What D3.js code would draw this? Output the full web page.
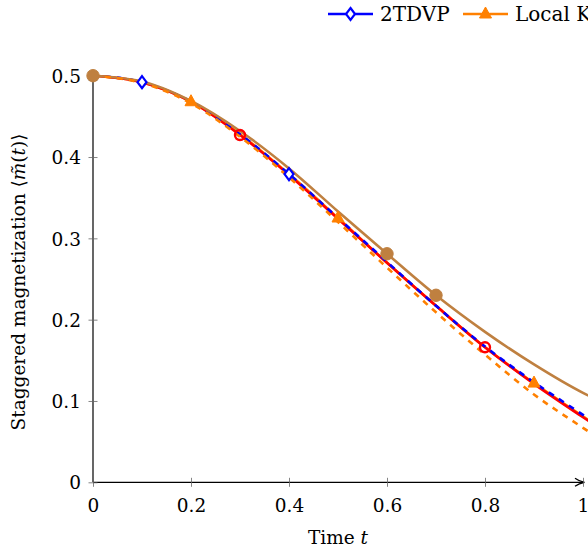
<!DOCTYPE html>
<html><head><meta charset="utf-8">
<script src="https://cdn.jsdelivr.net/npm/d3@7"></script>
<style>
html,body{margin:0;padding:0;background:#fff;overflow:hidden;}
text{font-family:"DejaVu Serif",serif;fill:#000;}
</style></head>
<body><svg id="c" width="588" height="554"></svg>
<script>
// ---- data ----
const times      = [0, 0.1, 0.2, 0.3, 0.4, 0.5, 0.6, 0.7, 0.8, 0.9, 1.0, 1.02];
const tdvp       = [0.500, 0.492, 0.468, 0.428, 0.379, 0.325, 0.271, 0.217, 0.167, 0.123, 0.083, 0.075];
const localK     = [0.500, 0.492, 0.468, 0.428, 0.379, 0.325, 0.270, 0.217, 0.166, 0.122, 0.081, 0.073];
const redSeries  = [0.500, 0.492, 0.468, 0.427, 0.378, 0.324, 0.270, 0.217, 0.166, 0.121, 0.080, 0.072];
const brownSeries= [0.500, 0.493, 0.469, 0.432, 0.386, 0.333, 0.281, 0.230, 0.185, 0.145, 0.110, 0.104];
const orangeDash = [0.500, 0.491, 0.466, 0.425, 0.375, 0.320, 0.264, 0.209, 0.157, 0.108, 0.067, 0.059];
const tdvpMarks   = [0.1, 0.4];
const localKMarks = [0.2, 0.5, 0.9];
const redMarks    = [0.3, 0.8];
const brownMarks  = [0, 0.6, 0.7];
const xTicks = [0, 0.2, 0.4, 0.6, 0.8, 1];
const yTicks = [0, 0.1, 0.2, 0.3, 0.4, 0.5];
const legendNames = ["2TDVP", "Local Krylov"];

const svg = d3.select("#c");
const x = d3.scaleLinear().domain([0, 1]).range([93, 583]);
const y = d3.scaleLinear().domain([0, 0.5]).range([482.3, 75.7]);
const FS = 18.5;
const LW = 2.6;
const FONT = "DejaVu Serif";

const line = vals => d3.line().x((d,i)=>x(times[i])).y(d=>y(d)).curve(d3.curveMonotoneX)(vals);
const at = (vals, t) => { const i = times.findIndex(v => Math.abs(v - t) < 1e-9); return vals[i]; };

// axes
const ax = svg.append("g");
ax.append("line").attr("x1", x(0)).attr("x2", x(1)+1).attr("y1", y(0)).attr("y2", y(0)).attr("stroke","#000").attr("stroke-width",1.2);
ax.append("line").attr("x1", x(0)).attr("x2", x(0)).attr("y1", y(0)).attr("y2", y(0.5)-3).attr("stroke","#000").attr("stroke-width",1.2);
ax.append("path").attr("d", `M${x(1)-8},${y(0)-4} Q${x(1)-4},${y(0)-1} ${x(1)+1.5},${y(0)} Q${x(1)-4},${y(0)+1} ${x(1)-8},${y(0)+4}`).attr("fill","none").attr("stroke","#000").attr("stroke-width",1.2);
ax.append("path").attr("d", `M${x(0)-4},${y(0.5)+5} Q${x(0)-1},${y(0.5)+1} ${x(0)},${y(0.5)-4} Q${x(0)+1},${y(0.5)+1} ${x(0)+4},${y(0.5)+5}`).attr("fill","none").attr("stroke","#000").attr("stroke-width",1.2);

const xAxis = d3.axisBottom(x).tickValues(xTicks).tickFormat(d3.format("")).tickSize(0);
const xg = svg.append("g").attr("transform", `translate(0,${y(0)})`).call(xAxis);
xg.attr("font-family", FONT);
xg.select(".domain").remove();
xg.selectAll("text").attr("font-size", FS).attr("dy", null).attr("y", 29.5);
xg.selectAll(".tick").append("line").attr("y1",-4.5).attr("y2",4.5).attr("stroke","#666").attr("stroke-width",0.8);

const yAxis = d3.axisLeft(y).tickValues(yTicks).tickFormat(d3.format("")).tickSize(0);
const yg = svg.append("g").attr("transform", `translate(${x(0)},0)`).call(yAxis);
yg.attr("font-family", FONT);
yg.select(".domain").remove();
yg.selectAll("text").attr("font-size", FS).attr("x", -12).attr("dy", "0.36em");
yg.selectAll(".tick").append("line").attr("x1",-4.5).attr("x2",4.5).attr("stroke","#666").attr("stroke-width",0.8);

// axis titles
const xt = svg.append("text").attr("x", 338).attr("y", 544).attr("text-anchor","middle").attr("font-size", FS);
xt.append("tspan").text("Time ");
xt.append("tspan").attr("font-style","italic").text("t");

const yt = svg.append("text").attr("transform", `translate(25,282) rotate(-90)`).attr("text-anchor","middle").attr("font-size", FS);
yt.append("tspan").text("Staggered magnetization \u27E8");
yt.append("tspan").attr("font-style","italic").text("m\u0303");
yt.append("tspan").text("(");
yt.append("tspan").attr("font-style","italic").text("t");
yt.append("tspan").text(")\u27E9");

// series
const g = svg.append("g");
const RED="#ff0000", BLUE="#0000ff", ORANGE="#ff8000", BROWN="#bf8040";
g.append("path").attr("d", line(localK)).attr("fill","none").attr("stroke",ORANGE).attr("stroke-width",LW);
g.append("path").attr("d", line(redSeries)).attr("fill","none").attr("stroke",RED).attr("stroke-width",LW);
g.append("path").attr("d", line(tdvp)).attr("fill","none").attr("stroke",BLUE).attr("stroke-width",LW).attr("stroke-dasharray","6,6");
g.append("path").attr("d", line(brownSeries)).attr("fill","none").attr("stroke",BROWN).attr("stroke-width",LW);
g.append("path").attr("d", line(orangeDash)).attr("fill","none").attr("stroke",ORANGE).attr("stroke-width",LW).attr("stroke-dasharray","6,6");

const diamond = (cx, cy) => `M${cx},${cy-6} L${cx+4.5},${cy} L${cx},${cy+6} L${cx-4.5},${cy} Z`;
const tri = (cx, cy) => `M${cx},${cy-7} L${cx+6},${cy+4} L${cx-6},${cy+4} Z`;

g.selectAll(".dm").data(tdvpMarks).join("path").attr("d", t => diamond(x(t), y(at(tdvp,t)))).attr("fill","#fff").attr("stroke",BLUE).attr("stroke-width",2.2);
g.selectAll(".tr").data(localKMarks).join("path").attr("d", t => tri(x(t), y(at(localK,t)))).attr("fill",ORANGE).attr("stroke",ORANGE).attr("stroke-width",1);
g.selectAll(".rc").data(redMarks).join("circle").attr("cx", t => x(t)).attr("cy", t => y(at(redSeries,t))).attr("r",5).attr("fill","none").attr("stroke",RED).attr("stroke-width",2.4);
g.selectAll(".bc").data(brownMarks).join("circle").attr("cx", t => x(t)).attr("cy", t => y(at(brownSeries,t))).attr("r",6.2).attr("fill",BROWN).attr("stroke",BROWN);

// legend
const lg = svg.append("g");
lg.append("line").attr("x1",328).attr("x2",373).attr("y1",14).attr("y2",14).attr("stroke",BLUE).attr("stroke-width",LW);
lg.append("path").attr("d", diamond(350.5,14)).attr("fill","#fff").attr("stroke",BLUE).attr("stroke-width",2.2);
lg.append("text").attr("x",380).attr("y",21).attr("font-size",20).text(legendNames[0]);
lg.append("line").attr("x1",463).attr("x2",508).attr("y1",14).attr("y2",14).attr("stroke",ORANGE).attr("stroke-width",LW);
lg.append("path").attr("d", tri(485.5,14)).attr("fill",ORANGE).attr("stroke",ORANGE).attr("stroke-width",1);
lg.append("text").attr("x",515).attr("y",21).attr("font-size",20).text(legendNames[1]);
</script></body></html>
